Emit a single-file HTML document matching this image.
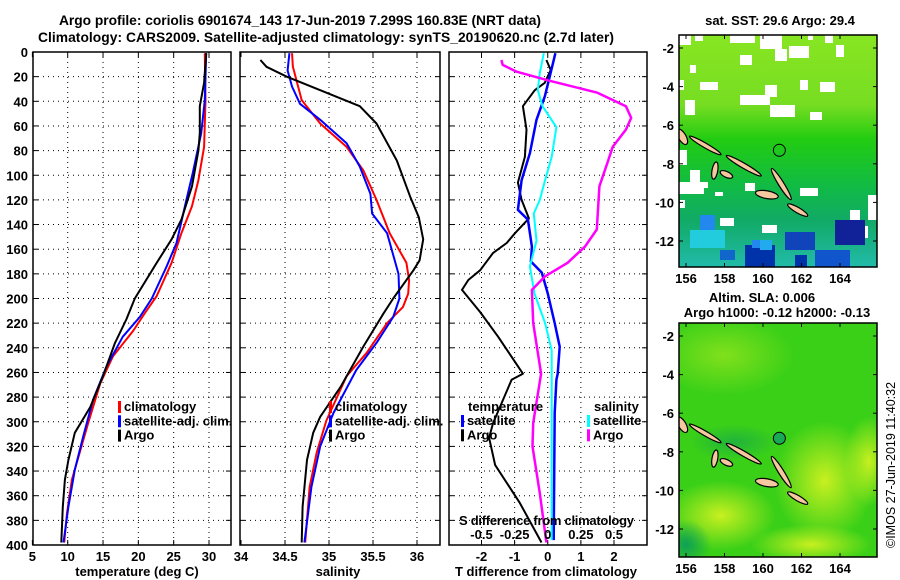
<!DOCTYPE html>
<html><head><meta charset="utf-8"><style>
html,body{margin:0;padding:0;background:#fff;}
svg{display:block;font-family:"Liberation Sans",sans-serif;font-weight:bold;}
text{font-size:13px;fill:#000;}
.big{font-size:13.8px;}
</style></head><body>
<svg id="fig" width="900" height="580" viewBox="0 0 900 580">
<text class="big" x="59" y="25" textLength="482">Argo profile: coriolis 6901674_143 17-Jun-2019 7.299S 160.83E (NRT data)</text>
<text class="big" x="38" y="42" textLength="576">Climatology: CARS2009. Satellite-adjusted climatology: synTS_20190620.nc (2.7d later)</text>
<g id="plots"></g>
</svg>
<script>
// ---- data (depth in m) ----
const tClimDepth=[1,39,77,104,125,147,171,198,212,226,247,269,301,325,347,374,398];
const tClimVal=[29.4,29.5,29.3,28.5,27.6,26.1,24.7,22.6,20.9,19.3,16.4,14.6,12.9,11.7,10.6,9.9,9.5];
const tSatDepth=[1,39,66,98,120,155,174,200,215,231,255,282,312,339,369,398];
const tSatVal=[29.6,29.4,28.9,27.7,26.8,25.4,24.0,21.9,20.2,17.8,15.5,13.6,12.2,11.0,10.1,9.4];
const tArgoDepth=[1,25,44,66,80,109,136,152,171,200,217,236,263,288,309,331,347,369,398];
const tArgoVal=[29.6,29.3,28.7,28.7,28.5,27.6,26.1,24.7,22.6,19.5,18.3,16.7,15.0,13.2,11.0,10.1,9.6,9.3,9.1];
const sClimDepth=[1,12,39,58,77,96,120,147,171,185,196,207,220,244,263,299,325,353,398];
const sClimVal=[34.58,34.59,34.69,34.90,35.20,35.39,35.54,35.69,35.88,35.91,35.90,35.84,35.66,35.43,35.20,34.97,34.86,34.78,34.73];
const sSatDepth=[1,15,28,42,55,74,93,115,131,147,180,200,215,236,258,293,320,353,398];
const sSatVal=[34.55,34.53,34.58,34.67,34.90,35.20,35.35,35.47,35.49,35.66,35.79,35.80,35.73,35.54,35.31,35.05,34.90,34.80,34.72];
const sArgoDepth=[6.5,12,20,31,44,58,88,117,134,152,169,177,200,212,239,272,296,309,331,369,398];
const sArgoVal=[34.22,34.29,34.52,34.90,35.35,35.54,35.77,35.92,36.02,36.07,36.03,35.96,35.73,35.62,35.39,35.13,34.90,34.82,34.75,34.70,34.69];
const dTArgoDepth=[6.5,14.6,25,31,44,63,85,106,120,135,147,155,163,177,185,193,211,231,261,266,301,313,335,366,398];
const dTArgoVal=[-0.04,0.09,-0.09,-0.39,-0.75,-0.64,-0.69,-0.9,-0.79,-0.57,-0.99,-1.24,-1.65,-2.04,-2.4,-2.59,-2.04,-1.5,-0.75,-1.09,-1.65,-1.77,-1.59,-0.84,-0.19];
const dTSatDepth=[1,20,36,55,82,104,128,136,158,170,179,196,220,239,261,266,293,396];
const dTSatVal=[0.23,0.06,-0.09,-0.34,-0.54,-0.79,-0.9,-0.6,-0.48,-0.51,-0.18,0,0.21,0.36,0.3,0.26,0.21,0.18];
const dSSatDepth=[1,17,31,44,61,85,104,120,131,153,174,196,220,242,272,396];
const dSSatVal=[-0.03,-0.06,-0.075,-0.04,0.065,0.03,-0.02,-0.06,-0.105,-0.085,-0.135,-0.1,-0.02,0.03,0.03,0.03];
const dSArgoDepth=[6.5,10.5,16,23,33,44,53.5,63,77,90,109,144,158,171,182,193,220,261,301,320,358,398];
const dSArgoVal=[-0.35,-0.34,-0.235,0,0.375,0.59,0.63,0.59,0.49,0.45,0.39,0.37,0.28,0.15,-0.02,-0.12,-0.11,-0.05,-0.11,-0.115,-0.06,-0.01];
const depthTicks=[0,20,40,60,80,100,120,140,160,180,200,220,240,260,280,300,320,340,360,380,400];
const tTicks=[5,10,15,20,25,30];
const sTicks=[34,34.5,35,35.5,36];
const dTTicks=[-2,-1,0,1,2];
const dSTicks=[-0.5,-0.25,0,0.25,0.5];
const lonTicks=[156,158,160,162,164];
const latTicks=[-2,-4,-6,-8,-10,-12];

const NS="http://www.w3.org/2000/svg";
const G=document.getElementById('plots');
function mk(tag,attrs,parent){const e=document.createElementNS(NS,tag);for(const k in attrs)e.setAttribute(k,attrs[k]);(parent||G).appendChild(e);return e;}
function txt(x,y,s,anchor,parent){const e=mk('text',{x:x,y:y,'text-anchor':anchor||'start'},parent);e.textContent=s;return e;}

const TOP=52,BOT=545;
const yD=d=>TOP+d*(BOT-TOP)/400;
function xScale(x0,x1,v0,v1){return v=>x0+(v-v0)*(x1-x0)/(v1-v0);}
const xT=xScale(67.7,209,10,30);
const xS=xScale(285,417,34.5,36);
const xdT=xScale(481.5,614,-2,2);
const xdS=v=>xdT(v*4);

function panel(x0,x1,xs,ticks,name){
  const g=mk('g',{});
  
  
  depthTicks.forEach(d=>{
    if(d>0&&d<400){const l=mk('line',{x1:x0,x2:x1,y1:yD(d),y2:yD(d),stroke:'#000','stroke-dasharray':'1,4'},g);
    }
    mk('line',{x1:x0,x2:x0+5,y1:yD(d),y2:yD(d),stroke:'#000'},g);
    mk('line',{x1:x1-5,x2:x1,y1:yD(d),y2:yD(d),stroke:'#000'},g);
  });
  ticks.forEach(v=>{const x=xs(v);
    if(x>x0+2&&x<x1-2){const l=mk('line',{x1:x,x2:x,y1:TOP,y2:BOT,stroke:'#000','stroke-dasharray':'1,4'},g);
    }
    mk('line',{x1:x,x2:x,y1:TOP,y2:TOP+5,stroke:'#000'},g);
    mk('line',{x1:x,x2:x,y1:BOT-5,y2:BOT,stroke:'#000'},g);
  });
  const r=mk('rect',{x:x0,y:TOP,width:x1-x0,height:BOT-TOP,fill:'none',stroke:'#000','stroke-width':1.5},g);
  
  return g;
}
function line(xs,vals,depths,color,w,name,parent){
  const pts=vals.map((v,i)=>xs(v).toFixed(1)+','+yD(depths[i]).toFixed(1)).join(' ');
  const p=mk('polyline',{points:pts,fill:'none',stroke:color,'stroke-width':w,'stroke-linejoin':'round'},parent);
  
  
}
function legend(x,y,items,parent){
  items.forEach((it,i)=>{const yy=y+i*14.3;
    mk('rect',{x:x,y:yy-10,width:3,height:12,fill:it[1]},parent);
    const t=txt(x+6,yy,it[0],'start',parent);
    
  });
}
depthTicks.forEach(d=>{const t=txt(28,yD(d)+5,String(d),'end');
  });

const p1=panel(33,231,xT,tTicks,'temperature-panel');
line(xT,tClimVal,tClimDepth,'#f00',2,'temp-climatology-line',p1);
line(xT,tSatVal,tSatDepth,'#00f',2,'temp-satellite-line',p1);
line(xT,tArgoVal,tArgoDepth,'#000',2,'temp-argo-line',p1);
legend(118,411,[['climatology','#f00'],['satellite-adj. clim.','#00f'],['Argo','#000']],p1);
tTicks.forEach(v=>{const t=txt(xT(v),561,String(v),'middle');});
{const t=txt(137,576,'temperature (deg C)','middle');}

const p2=panel(240,440,xS,sTicks,'salinity-panel');
line(xS,sClimVal,sClimDepth,'#f00',2,'sal-climatology-line',p2);
line(xS,sSatVal,sSatDepth,'#00f',2,'sal-satellite-line',p2);
line(xS,sArgoVal,sArgoDepth,'#000',2,'sal-argo-line',p2);
legend(329,411,[['climatology','#f00'],['satellite-adj. clim.','#00f'],['Argo','#000']],p2);
sTicks.forEach(v=>{const t=txt(xS(v),561,String(v),'middle');});
{const t=txt(338,576,'salinity','middle');}

const p3=panel(449,647,xdT,dTTicks,'difference-panel');
line(xdT,dTArgoVal,dTArgoDepth,'#000',2,'dT-argo-line',p3);
line(xdT,dTSatVal,dTSatDepth,'#00f',2.5,'dT-satellite-line',p3);
line(xdS,dSSatVal,dSSatDepth,'#0ff',2,'dS-satellite-line',p3);
line(xdS,dSArgoVal,dSArgoDepth,'#f0f',2.5,'dS-argo-line',p3);
{const t=txt(468,411,'temperature','start',p3);
 const s=txt(594,411,'salinity','start',p3);}
legend(461,425,[['satellite','#00f'],['Argo','#000']],p3);
legend(587,425,[['satellite','#0ff'],['Argo','#f0f']],p3);
{const t=txt(459,525,'S difference from climatology','start',p3);t.setAttribute('textLength','175');}
dSTicks.forEach(v=>{const t=txt(xdS(v),539,String(v),'middle',p3);});
dTTicks.forEach(v=>{const t=txt(xdT(v),561,String(v),'middle');});
{const t=txt(546,576,'T difference from climatology','middle');}

function map(top,bot,name,kind){
  const L=679,R=877;
  const lx=v=>686+(v-156)*19.25;
  const ly=v=>48+(v+2)*(-19.3)+(top-35);
  const g=mk('g',{});
  
  const cid='clip'+kind;
  const cp=mk('clipPath',{id:cid},g);mk('rect',{x:L,y:top,width:R-L,height:bot-top},cp);
  const inner=mk('g',{'clip-path':'url(#'+cid+')'},g);
  if(kind==='sst'){
    const df=mk('defs',{},inner);
    const lg=mk('linearGradient',{id:'sstg',x1:0,y1:0,x2:0,y2:1},df);
    mk('stop',{offset:'0','stop-color':'#88e622'},lg);mk('stop',{offset:'0.3','stop-color':'#77dd22'},lg);
    mk('stop',{offset:'0.45','stop-color':'#22cc11'},lg);mk('stop',{offset:'0.65','stop-color':'#11bb44'},lg);
    mk('stop',{offset:'0.8','stop-color':'#11aa66'},lg);mk('stop',{offset:'1','stop-color':'#22bbaa'},lg);
    mk('rect',{x:L,y:top,width:R-L,height:bot-top,fill:'url(#sstg)'},inner);
    [[679,35,12,10],[695,35,8,6],[730,35,25,8],[760,35,22,14],[775,49,12,12],[740,55,12,10],[789,46,20,12],[808,35,5,5],[825,35,8,8],[836,45,8,12],[679,80,5,10],[690,65,6,8],[700,82,18,8],[685,100,10,15],[740,95,30,10],[765,85,12,12],[770,105,25,12],[800,80,8,10],[820,82,15,10],[810,112,12,8],[679,150,8,15],[690,170,10,15],[679,182,25,12],[680,200,5,8],[700,182,8,6],[715,192,8,4],[745,183,10,8],[800,188,18,8],[850,210,10,12],[720,218,14,8],[762,225,15,8],[868,195,9,25],[860,226,8,12]].forEach(r=>{
      mk('rect',{x:r[0],y:r[1],width:r[2],height:r[3],fill:'#fff'},inner);});
    [[690,230,35,18,'#22ccdd'],[745,245,30,22,'#0033aa'],[752,240,8,8,'#2288ee'],[785,232,30,18,'#1144bb'],[835,220,30,25,'#112299'],[815,250,35,17,'#1155cc'],[760,240,12,10,'#22aaee'],[700,215,15,15,'#2288ee'],[720,250,15,10,'#1166cc'],[795,255,12,12,'#0033aa']].forEach(r=>{
      mk('rect',{x:r[0],y:r[1],width:r[2],height:r[3],fill:r[4]},inner);});
  } else {
    const df=mk('defs',{},inner);
    [['b1','#c8f020'],['b2','#0fa055']].forEach(a=>{const rg=mk('radialGradient',{id:a[0]},df);
      mk('stop',{offset:'0','stop-color':a[1],'stop-opacity':1},rg);mk('stop',{offset:'1','stop-color':a[1],'stop-opacity':0},rg);});
    mk('rect',{x:L,y:top,width:R-L,height:bot-top,fill:'#3ad018'},inner);
    mk('ellipse',{cx:lx(163.2),cy:ly(-9.5),rx:50,ry:60,fill:'url(#b1)'},inner);
    mk('ellipse',{cx:lx(157.8),cy:ly(-11.3),rx:55,ry:35,fill:'url(#b1)'},inner);
    mk('ellipse',{cx:lx(165.5),cy:ly(-8.5),rx:25,ry:45,fill:'url(#b1)'},inner);
    mk('ellipse',{cx:lx(162.5),cy:ly(-12.8),rx:60,ry:20,fill:'url(#b1)'},inner);
    mk('ellipse',{cx:lx(158),cy:ly(-3),rx:70,ry:40,fill:'url(#b1)','opacity':0.5},inner);
    mk('ellipse',{cx:lx(156),cy:ly(-12.8),rx:25,ry:25,fill:'url(#b2)'},inner);
    mk('ellipse',{cx:lx(158.5),cy:ly(-7.5),rx:45,ry:18,fill:'url(#b2)','opacity':0.6},inner);
  }
  [[155.8,-6.6,0.45,0.2,60],[157.0,-7.05,0.95,0.12,30],[159.0,-8.1,1.05,0.13,30],[157.5,-8.35,0.15,0.45,10],[158.1,-8.55,0.35,0.15,25],[160.2,-9.6,0.6,0.2,10],[160.95,-9.05,0.95,0.14,58],[161.8,-10.4,0.6,0.14,30]].forEach(i=>{
    const e=mk('ellipse',{cx:lx(i[0]),cy:ly(i[1]),rx:i[2]*19.25,ry:i[3]*19.3,fill:'#f5c8a0',stroke:'#000','stroke-width':1.2,transform:'rotate('+i[4]+' '+lx(i[0])+' '+ly(i[1])+')'},inner);
    });
  const c=mk('circle',{cx:lx(160.85),cy:ly(-7.3),r:6,fill:kind==='sst'?'none':'#1aaa55',stroke:'#000','stroke-width':1},inner);
  
  const fr=mk('rect',{x:L,y:top,width:R-L,height:bot-top,fill:'none',stroke:'#000','stroke-width':1.5},g);
  
  lonTicks.forEach(v=>{mk('line',{x1:lx(v),x2:lx(v),y1:top,y2:top+4,stroke:'#000'},g);mk('line',{x1:lx(v),x2:lx(v),y1:bot-4,y2:bot,stroke:'#000'},g);
    const t=txt(lx(v),bot+16,String(v),'middle',g);});
  latTicks.forEach(v=>{mk('line',{x1:L,x2:L+4,y1:ly(v),y2:ly(v),stroke:'#000'},g);mk('line',{x1:R-4,x2:R,y1:ly(v),y2:ly(v),stroke:'#000'},g);
    const t=txt(674,ly(v)+5,String(v),'end',g);});
}
map(35,267,'sst-map','sst');
map(323,557,'sla-map','sla');
{const t=txt(780,25,'sat. SST: 29.6 Argo: 29.4','middle');
 const a=txt(762,302,'Altim. SLA: 0.006','middle');
 const b=txt(777,317,'Argo h1000: -0.12 h2000: -0.13','middle');
 const c=txt(0,0,'©IMOS 27-Jun-2019 11:40:32','start');c.setAttribute('transform','translate(895,548) rotate(-90)');c.setAttribute('style','font-weight:normal;font-size:12.5px');
 }
</script>
</body></html>
